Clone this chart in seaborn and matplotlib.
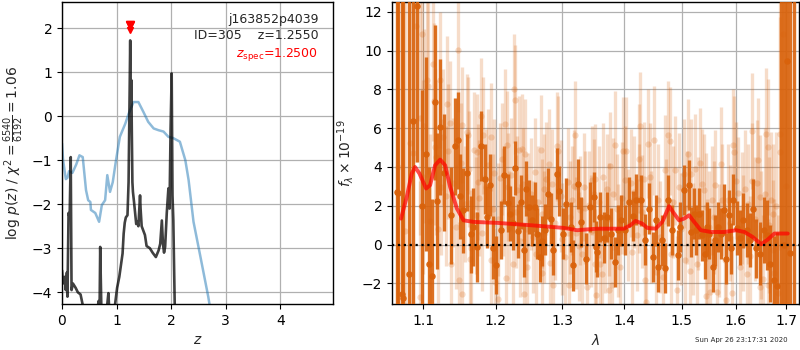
import numpy as np
import pandas as pd
import matplotlib
matplotlib.use("Agg")
import matplotlib.pyplot as plt
import matplotlib.ticker as mticker
import seaborn as sns

# ---------------- redshift fit: log p(z) and scaled chi^2 ----------------
z_pdf = [0.00, 0.02, 0.05, 0.07, 0.09, 0.10, 0.12, 0.14, 0.16, 0.175, 0.20, 0.25, 0.29, 0.34, 0.39,
         0.45, 0.55, 0.64, 0.67, 0.69, 0.70, 0.72, 0.75, 0.82, 0.85, 0.87, 0.92, 0.97, 1.01, 1.05,
         1.11, 1.13, 1.15, 1.17, 1.20, 1.22, 1.24, 1.25, 1.26, 1.27, 1.28, 1.29, 1.30, 1.32, 1.34,
         1.36, 1.38, 1.40, 1.43, 1.44, 1.46, 1.52, 1.55, 1.61, 1.66, 1.72, 1.77, 1.80, 1.83, 1.85,
         1.87, 1.89, 1.92, 1.95, 1.97, 1.99, 2.01, 2.025, 2.04, 2.055, 2.07]
logp_pdf = [-3.50, -3.80, -3.65, -3.95, -3.55, -4.10, -2.20, -2.30, -0.93, -3.95, -3.80, -3.90, -4.00, -4.05, -4.35,
            -4.60, -4.80, -4.50, -4.20, -4.25, -2.97, -4.30, -4.60, -4.40, -4.02, -4.50, -4.60, -4.30, -3.90, -3.65,
            -3.12, -2.67, -2.42, -2.30, -2.25, -1.50, 0.60, 1.72, 0.20, 0.82, -0.40, -1.50, -1.72, -1.95, -2.20,
            -2.45, -2.40, -2.50, -1.80, -2.10, -2.50, -2.70, -2.95, -3.00, -3.10, -3.20, -3.05, -2.90, -2.37, -2.90,
            -3.10, -2.97, -2.20, -1.64, -2.10, -0.30, 0.97, -1.80, -2.36, -3.50, -4.60]

z_chi = [0.00, 0.02, 0.07, 0.10, 0.13, 0.19, 0.26, 0.32, 0.38, 0.44, 0.48, 0.52, 0.53, 0.61, 0.68,
         0.73, 0.79, 0.83, 0.88, 0.93, 0.99, 1.06, 1.16, 1.22, 1.31, 1.40, 1.49, 1.58, 1.68, 1.77,
         1.86, 1.95, 2.04, 2.16, 2.26, 2.32, 2.41, 2.53, 2.68, 2.72]
logp_chi = [-0.62, -1.00, -1.43, -1.40, -1.25, -1.29, -1.10, -0.89, -0.93, -1.68, -1.91, -1.95, -2.13, -2.20, -2.40,
            -2.02, -1.91, -1.34, -1.72, -1.50, -1.00, -0.47, -0.17, 0.05, 0.32, 0.32, 0.10, -0.13, -0.28, -0.32,
            -0.35, -0.47, -0.50, -0.58, -1.00, -1.45, -2.40, -3.15, -4.10, -4.40]

z_best = 1.2550
z_spec = 1.2500
chi2_num, chi2_den = 6540, 6192
obj_name = "j163852p4039"
obj_id = 305
timestamp = "Sun Apr 26 23:17:31 2020"

# ---------------- binned 1D spectrum (dark) ----------------
wave_bin = [1.066, 1.068, 1.072, 1.074, 1.082, 1.0865, 1.0925, 1.0983, 1.1038, 1.1074, 1.1116, 1.1154,
            1.1191, 1.1228, 1.1275, 1.1377, 1.1423, 1.1471, 1.1493, 1.1540, 1.1601, 1.1647, 1.1680, 1.1740,
            1.1796, 1.1843, 1.1880, 1.1912, 1.1960, 1.2010, 1.2075, 1.2126, 1.2175, 1.2210, 1.2246, 1.2285,
            1.2325, 1.2375, 1.2411, 1.2450, 1.2495, 1.2535, 1.2576, 1.2610, 1.2651, 1.2685, 1.2735, 1.2775,
            1.2825, 1.2861, 1.2910, 1.2951, 1.3011, 1.3062, 1.3130, 1.3173, 1.3243, 1.3297, 1.3378, 1.3433,
            1.3498, 1.3535, 1.3551, 1.3605, 1.3660, 1.3713, 1.3783, 1.3838, 1.3891, 1.3945, 1.4010, 1.4080,
            1.4140, 1.4197, 1.4290, 1.4360, 1.4430, 1.4489, 1.4546, 1.4581, 1.4651, 1.4698, 1.4755, 1.4825,
            1.4925, 1.4970, 1.5031, 1.5124, 1.5167, 1.5217, 1.5259, 1.5320, 1.5370, 1.5420, 1.5463, 1.5506,
            1.5569, 1.5617, 1.5667, 1.5728, 1.5772, 1.5820, 1.5876, 1.5913, 1.5957, 1.6019, 1.6083, 1.6148,
            1.6212, 1.6275, 1.6340, 1.6404, 1.6467, 1.6552, 1.6615, 1.6679, 1.6756, 1.6821, 1.6885, 1.6949,
            1.7025, 1.7077, 1.7150]
flux_bin = [2.70, 2.66, -2.53, -2.75, -1.53, 6.36, 12.28, 1.97, 4.65, -1.00, -1.63, 7.33,
            2.23, 6.06, 3.71, 1.51, 5.07, 5.38, 2.49, 1.77, 3.71, 0.53, 0.91, -0.12,
            5.07, 3.40, 1.42, 3.06, -0.15, -1.07, 0.74, 3.57, 2.14, 1.60, 1.11, 3.95,
            0.70, 2.20, -0.29, 2.89, 1.94, 1.25, 1.94, 0.57, -0.64, 0.19, 0.77, 2.63,
            1.34, -0.29, 3.66, 2.76, 0.57, 2.11, 0.91, -1.07, 3.11, 1.16, -0.72, 1.94,
            2.45, -0.10, -0.38, 1.42, 0.36, 1.42, 0.57, -0.90, 0.74, 1.25, 0.74, 2.20,
            1.46, 2.32, 2.28, 0.26, 1.86, -0.64, 1.25, -1.15, 0.22, -1.20, 2.28, 0.74,
            -0.55, 0.91, 2.80, 3.06, 0.66, 1.60, 0.74, 1.60, 0.48, -0.46, 0.91, 0.57,
            -1.15, 0.22, 0.91, 0.57, 1.80, -0.72, 1.50, -0.20, 2.32, 0.85, 0.36, 1.25,
            0.74, 0.22, 1.86, -0.20, -0.46, 0.74, 0.48, -0.98, -1.84, -2.15, 14.0, -0.04,
            9.45, -0.41, 14.0]
err_bin = [20, 20, 20, 20, 15, 12, 8, 6, 5, 5, 4, 4,
           3.5, 3.5, 3.0, 2.5, 2.5, 2.5, 2.2, 2.2, 2.0, 2.0, 2.0, 1.8,
           1.8, 1.8, 1.6, 1.6, 1.6, 1.5, 1.5, 1.5, 1.5, 1.4, 1.4, 1.4,
           1.4, 1.4, 1.4, 1.4, 1.4, 1.3, 1.3, 1.3, 1.3, 1.3, 1.3, 1.3,
           1.3, 1.3, 1.3, 1.3, 1.3, 1.3, 1.3, 1.3, 1.3, 1.3, 1.3, 1.3,
           1.3, 1.3, 1.3, 1.3, 1.3, 1.3, 1.3, 1.3, 1.3, 1.3, 1.3, 1.3,
           1.3, 1.3, 1.3, 1.3, 1.3, 1.3, 1.3, 1.3, 1.3, 1.3, 1.3, 1.3,
           1.3, 1.3, 1.3, 1.3, 1.3, 1.3, 1.3, 1.3, 1.3, 1.3, 1.3, 1.3,
           1.3, 1.3, 1.3, 1.3, 1.3, 1.3, 1.3, 1.3, 1.3, 1.4, 1.4, 1.4,
           1.4, 1.4, 1.5, 1.5, 1.6, 1.7, 1.8, 2.0, 2.3, 2.8, 20, 20,
           20, 20, 20]

# ---------------- individual exposure spectra (light) ----------------
wave_exp = [1.067, 1.077, 1.083, 1.087, 1.091, 1.096, 1.0965, 1.099, 1.101, 1.105, 1.107, 1.1135,
            1.1145, 1.116, 1.123, 1.124, 1.126, 1.132, 1.136, 1.138, 1.147, 1.149, 1.152, 1.153,
            1.159, 1.161, 1.163, 1.165, 1.1695, 1.174, 1.1755, 1.1785, 1.182, 1.1865, 1.193, 1.1935,
            1.196, 1.198, 1.199, 1.204, 1.206, 1.211, 1.2135, 1.2145, 1.216, 1.2175, 1.2246, 1.226,
            1.2275, 1.231, 1.2335, 1.238, 1.241, 1.2435, 1.2445, 1.2465, 1.2475, 1.2585, 1.2595, 1.2675,
            1.268, 1.2685, 1.271, 1.2795, 1.281, 1.2835, 1.286, 1.291, 1.2935, 1.3037, 1.308, 1.311,
            1.3146, 1.320, 1.3254, 1.328, 1.3335, 1.339, 1.3417, 1.347, 1.3505, 1.352, 1.3523, 1.3535,
            1.3604, 1.3633, 1.3656, 1.3712, 1.374, 1.3766, 1.3794, 1.3848, 1.3875, 1.393, 1.3979, 1.401,
            1.4035, 1.4115, 1.4128, 1.4244, 1.425, 1.4272, 1.436, 1.4375, 1.4407, 1.4447, 1.4506, 1.4535,
            1.4668, 1.4698, 1.4755, 1.4796, 1.481, 1.4884, 1.4913, 1.4943, 1.5031, 1.5061, 1.5111, 1.5155,
            1.5173, 1.5236, 1.5278, 1.534, 1.5359, 1.5433, 1.5445, 1.5463, 1.5525, 1.5556, 1.5617, 1.5648,
            1.5728, 1.5802, 1.5815, 1.5851, 1.5938, 1.5944, 1.597, 1.6052, 1.6083, 1.6116, 1.618, 1.6212,
            1.6308, 1.632, 1.6436, 1.6467, 1.648, 1.6533, 1.6596, 1.6628, 1.664, 1.6692, 1.6724, 1.6735,
            1.6756, 1.6833, 1.6871, 1.6884, 1.6936, 1.699]
flux_exp = [4.00, 0.70, 5.24, 4.70, 11.25, 6.50, -2.70, 10.87, 6.10, 8.47, 8.16, 9.33,
            7.40, 5.03, 8.50, 2.97, 5.55, 7.23, 6.27, -0.98, 10.05, -1.84, 6.15, -2.56,
            5.80, 5.63, -0.72, -0.20, 4.86, 4.77, 3.23, 6.61, 5.63, 2.97, 5.55, -0.81,
            1.86, 3.69, -1.93, -2.78, 3.45, 2.20, 6.24, -1.70, 5.12, 2.97, -0.98, 8.04,
            7.47, 2.80, 4.86, 4.95, -2.53, 4.69, 0.82, -1.15, 1.94, 3.74, -0.46, 4.90,
            -1.46, 1.60, 2.89, 4.18, -0.95, 3.14, -2.10, 5.07, 4.84, -0.64, 3.23, -2.10,
            2.28, 5.63, -0.09, 1.77, 2.97, -2.18, 2.03, 3.31, 2.63, 3.40, -0.98, -2.61,
            -0.98, -1.50, 3.48, 2.89, -2.36, 4.04, -2.10, 5.12, 1.86, -1.15, 4.82, 3.31,
            4.82, 3.18, -0.38, 4.43, 2.37, 6.10, -1.84, -2.96, 5.20, 3.48, 5.38, -1.41,
            -1.67, 3.87, 5.63, 5.34, -0.46, 3.83, -2.36, 2.97, 3.66, -0.81, 4.69, -1.36,
            3.66, 3.92, -0.98, 4.23, 3.14, 1.94, -2.66, -0.46, -2.44, 2.28, 3.09, -2.44,
            4.18, -0.77, -2.87, 2.28, -2.47, 5.12, 4.77, 2.66, -1.15, 1.89, 2.89, -1.50,
            5.84, 3.26, 4.38, 2.45, -2.18, -1.75, 5.72, -2.10, 5.03, 2.32, 1.60, -0.29,
            -1.46, -2.49, 5.72, 4.77, 10.88, 3.00]
err_exp = [20, 15, 10, 9, 7, 6, 6, 6, 5, 5, 4.5, 4,
           4, 4, 3.5, 3.5, 3.5, 3.5, 3.2, 3, 3.2, 3, 3, 3,
           3, 3, 3, 3, 3, 3, 3, 3, 3, 3, 2.8, 2.8,
           2.8, 2.8, 2.8, 2.8, 2.8, 2.8, 2.8, 2.8, 2.8, 2.8, 2.8, 2.8,
           2.8, 2.8, 2.8, 2.8, 2.8, 2.8, 2.8, 2.8, 2.8, 2.8, 2.8, 2.8,
           2.8, 2.8, 2.8, 2.8, 2.8, 2.8, 2.8, 2.8, 2.8, 2.8, 2.8, 2.8,
           2.8, 2.8, 2.8, 2.8, 2.8, 2.8, 2.8, 2.8, 2.8, 2.8, 2.8, 2.8,
           2.8, 2.8, 2.8, 2.8, 2.8, 2.8, 2.8, 2.8, 2.8, 2.8, 2.8, 2.8,
           2.8, 2.8, 2.8, 2.8, 2.8, 2.8, 2.8, 2.8, 2.8, 2.8, 2.8, 2.8,
           2.8, 2.8, 2.8, 2.8, 2.8, 2.8, 2.8, 2.8, 2.8, 2.8, 2.8, 2.8,
           2.8, 2.8, 2.8, 2.8, 2.8, 2.8, 2.8, 2.8, 2.8, 2.8, 2.8, 2.8,
           2.9, 2.9, 2.9, 2.9, 2.9, 2.9, 2.9, 2.9, 2.9, 2.9, 3.0, 3.0,
           3.0, 3.0, 3.2, 3.2, 3.2, 3.3, 3.4, 3.4, 3.5, 3.5, 3.6, 3.6,
           3.8, 4.0, 6.0, 8.0, 15, 20]

# second exposure, mostly hidden under the binned points
wave_exp2 = [1.1005, 1.1095, 1.1175, 1.1205, 1.1300, 1.1335, 1.1405, 1.1440, 1.1515, 1.1570, 1.1625,
             1.1720, 1.1770, 1.1810, 1.1895, 1.2030, 1.2095, 1.2195, 1.2230, 1.2300, 1.2355, 1.2395,
             1.2520, 1.2550, 1.2625, 1.2715, 1.2750, 1.2880, 1.2975, 1.3000, 1.3115, 1.3180, 1.3220,
             1.3310, 1.3360, 1.3450, 1.3580, 1.3680, 1.3745, 1.3820, 1.3900, 1.3960, 1.4060, 1.4165,
             1.4210, 1.4300, 1.4330, 1.4460, 1.4580, 1.4620, 1.4720, 1.4850, 1.4990, 1.5090, 1.5200,
             1.5300, 1.5400, 1.5500, 1.5590, 1.5680, 1.5750, 1.5890, 1.6000, 1.6140, 1.6240, 1.6280,
             1.6380, 1.6420, 1.6500, 1.6570, 1.6660, 1.6800]
flux_exp2 = [3.5, 1.2, 4.5, 0.8, 2.5, 4.8, 3.2, 0.9, 4.2, 2.1, 3.9,
             1.5, 2.4, 0.6, 4.1, 1.3, 4.4, 0.9, 3.6, 1.7, 0.2, 3.1,
             2.6, 0.4, 2.2, 0.9, 3.4, 1.1, 2.5, 0.3, 1.4, 3.0, 0.6,
             -0.5, 1.9, 0.7, 2.2, 0.4, 1.3, 2.6, 0.2, 2.4, 1.0, 2.7,
             0.5, 1.7, 3.4, 0.9, 2.3, 0.4, 1.5, 2.2, 0.8, 1.9, 0.3,
             1.6, 2.8, 0.9, 1.4, 0.2, 2.3, 1.1, 3.3, 0.6, 2.1, -0.6,
             1.3, 3.2, 0.5, 2.6, 1.0, 2.0]
err_exp2 = [5.0, 4.5, 4.0, 3.8, 3.6, 3.5, 3.3, 3.2, 3.1, 3.0, 3.0,
            3.0, 3.0, 3.0, 2.9, 2.9, 2.9, 2.9, 2.9, 2.9, 2.9, 2.9,
            2.9, 2.9, 2.9, 2.9, 2.9, 2.9, 2.9, 2.9, 2.9, 2.9, 2.9,
            2.9, 2.9, 2.9, 2.9, 2.9, 2.9, 2.9, 2.9, 2.9, 2.9, 2.9,
            2.9, 2.9, 2.9, 2.9, 2.9, 2.9, 2.9, 2.9, 2.9, 2.9, 2.9,
            2.9, 2.9, 2.9, 2.9, 2.9, 2.9, 3.0, 3.0, 3.0, 3.1, 3.1,
            3.2, 3.2, 3.3, 3.4, 3.5, 3.8]

# ---------------- best-fit template ----------------
wave_model = [1.0713, 1.0787, 1.0852, 1.0895, 1.0953, 1.1040, 1.1093, 1.1160, 1.1228, 1.1295, 1.1363,
              1.1455, 1.1547, 1.1687, 1.2019, 1.2509, 1.3021, 1.3232, 1.3338, 1.3554, 1.3993, 1.4106,
              1.4191, 1.4306, 1.4392, 1.4536, 1.4654, 1.4773, 1.4862, 1.4951, 1.5041, 1.5132, 1.5224,
              1.5347, 1.5534, 1.5784, 1.6007, 1.6170, 1.6332, 1.6497, 1.6629, 1.6761, 1.7032]
flux_model = [1.34, 2.45, 3.66, 4.00, 3.66, 2.89, 3.06, 4.09, 4.38, 4.09, 2.97,
              1.86, 1.25, 1.17, 1.12, 1.00, 0.86, 0.74, 0.77, 0.82, 0.82, 1.00,
              1.22, 1.08, 0.86, 0.82, 1.17, 1.98, 1.60, 1.25, 1.34, 1.51, 1.17,
              0.74, 0.65, 0.65, 0.74, 0.65, 0.39, 0.02, 0.26, 0.57, 0.57]

wave_ticks = [1.1, 1.2, 1.3, 1.4, 1.5, 1.6, 1.7]

# ---------------- figure ----------------
sns.set_style("ticks")
plt.rcParams["font.family"] = ["DejaVu Sans"]
plt.rcParams["font.size"] = 9
plt.rcParams["mathtext.fontset"] = "dejavusans"

fig = plt.figure(figsize=(8, 3.5), dpi=100)
ax1 = fig.add_axes([0.0775, 0.131, 0.339, 0.863])
ax2 = fig.add_axes([0.490, 0.131, 0.509, 0.863])

grid_kw = dict(color="#b0b0b0", lw=0.9)

# left panel
df_pdf = pd.DataFrame({"z": z_pdf, "logp": logp_pdf})
df_chi = pd.DataFrame({"z": z_chi, "logp": logp_chi})
sns.lineplot(data=df_chi, x="z", y="logp", ax=ax1, color="tab:blue", alpha=0.5, lw=1.8,
             sort=False, estimator=None)
sns.lineplot(data=df_pdf, x="z", y="logp", ax=ax1, color="black", alpha=0.75, lw=1.9,
             sort=False, estimator=None)
ax1.plot([z_spec, z_best], [2.07, 2.07], marker="v", color="red", ms=6, ls="none")
ax1.plot([z_spec], [1.96], marker="v", color="red", ms=4, ls="none")

ax1.set_xlim(0, 4.97)
ax1.set_ylim(-4.27, 2.59)
ax1.set_xticks([0, 1, 2, 3, 4])
ax1.set_yticks([-4, -3, -2, -1, 0, 1, 2])
ax1.grid(True, **grid_kw)
ax1.set_xlabel(r"$z$", fontsize=10)
ax1.set_ylabel(r"log $p(z)$ / $\chi^2=\frac{%d}{%d}=%.2f$" % (chi2_num, chi2_den, chi2_num / chi2_den),
               fontsize=10)

ax1.text(0.945, 0.944, obj_name, transform=ax1.transAxes, ha="right", va="center", fontsize=9)
ax1.text(0.945, 0.889, "ID=%d    z=%.4f" % (obj_id, z_best), transform=ax1.transAxes,
         ha="right", va="center", fontsize=9)
ax1.text(0.945, 0.826, r"$z_\mathrm{spec}$=%.4f" % z_spec, transform=ax1.transAxes,
         ha="right", va="center", fontsize=9, color="red")

# right panel
spec_color = "#d9620b"
for w, f, e in ((wave_exp, flux_exp, err_exp), (wave_exp2, flux_exp2, err_exp2)):
    ax2.errorbar(w, f, yerr=e, fmt="o", color=spec_color, alpha=0.22,
                 ms=4.5, mew=0, elinewidth=2.4, capsize=0, zorder=2)
ax2.errorbar(wave_bin, flux_bin, yerr=err_bin, fmt="none", color=spec_color, alpha=0.9,
             elinewidth=2.4, capsize=0, zorder=3)
df_bin = pd.DataFrame({"wave": wave_bin, "flux": flux_bin})
sns.scatterplot(data=df_bin, x="wave", y="flux", ax=ax2, color=spec_color, s=22,
                linewidth=0, alpha=0.95, zorder=4)
df_model = pd.DataFrame({"wave": wave_model, "flux": flux_model})
sns.lineplot(data=df_model, x="wave", y="flux", ax=ax2, color="red", alpha=0.7, lw=2.8,
             sort=False, estimator=None, zorder=5)
ax2.axhline(0, color="black", ls=":", lw=1.6, zorder=6)

ax2.set_xscale("log")
ax2.set_xlim(1.0598, 1.7267)
ax2.set_ylim(-3.07, 12.5)
ax2.xaxis.set_major_locator(mticker.FixedLocator(wave_ticks))
ax2.xaxis.set_major_formatter(mticker.FixedFormatter(["%.1f" % w for w in wave_ticks]))
ax2.xaxis.set_minor_locator(mticker.NullLocator())
ax2.set_yticks([-2, 0, 2, 4, 6, 8, 10, 12])
ax2.grid(True, **grid_kw)
ax2.set_axisbelow(True)
ax2.set_xlabel(r"$\lambda$", fontsize=10)
ax2.set_ylabel(r"$f_\lambda\times10^{-19}$", fontsize=10)

for ax in (ax1, ax2):
    ax.tick_params(labelsize=10, direction="out", length=3.5, width=0.8, colors="black")
    for sp in ax.spines.values():
        sp.set_visible(True)
        sp.set_color("black")
        sp.set_linewidth(1.0)

fig.text(0.984, 0.029, timestamp, ha="right", va="center", fontsize=5)

fig.savefig("out.png", dpi=100)
